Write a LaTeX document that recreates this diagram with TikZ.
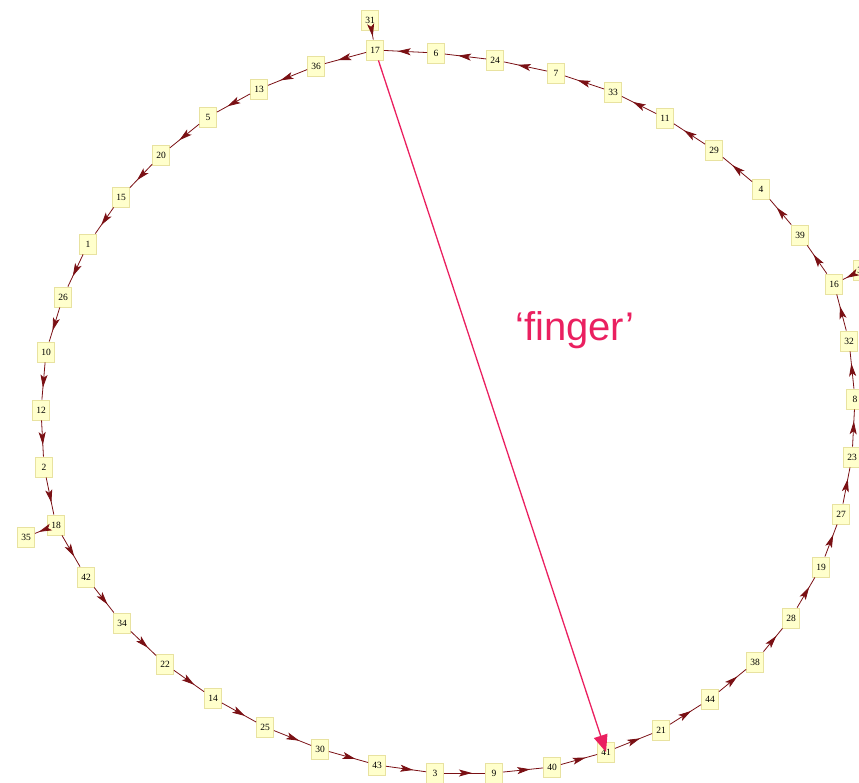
\documentclass[tikz,border=0pt]{standalone}
\usepackage{fontspec}
\setmainfont{Liberation Serif}
\newfontfamily\labelfont{Liberation Sans}
\usetikzlibrary{arrows.meta,decorations.markings}
\definecolor{boxfill}{RGB}{255,255,204}
\definecolor{boxline}{RGB}{232,226,160}
\definecolor{edgecol}{RGB}{122,16,20}
\definecolor{fingercol}{RGB}{234,32,96}
\tikzset{
  nd/.style={draw=boxline, fill=boxfill, line width=0.8pt, minimum width=17pt, minimum height=20pt, inner sep=1.5pt, font=\fontsize{9.5}{10}\selectfont},
  ed/.style={draw=edgecol, line width=0.8pt, postaction={decorate}, decoration={markings, mark=at position 0.68 with {\arrow[edgecol]{Stealth[length=13pt,width=7pt,inset=3pt]}}}},
  fingerline/.style={draw=fingercol, line width=1.3pt, -{Triangle[length=17pt,width=14pt]}},
}
\newcommand{\N}[3]{\node[nd] (n#1) at (#2,-#3) {#1};}
\begin{document}
\begin{tikzpicture}[x=1pt,y=1pt]
\useasboundingbox (0,0) rectangle (859,-783);
\N{31}{370}{20}
\N{17}{375}{50}
\N{6}{436}{53}
\N{24}{495}{60}
\N{7}{556}{73}
\N{33}{613}{92}
\N{11}{665}{118}
\N{29}{714}{150}
\N{4}{761}{189}
\N{39}{800}{235}
\N{16}{834}{284}
\N{37}{862}{270}
\N{32}{849}{341}
\N{8}{855}{399}
\N{23}{852}{457}
\N{27}{841}{514}
\N{19}{821}{567}
\N{28}{791}{618}
\N{38}{755}{662}
\N{44}{710}{699}
\N{21}{661}{730}
\N{41}{606}{752}
\N{40}{552}{767}
\N{9}{494}{773}
\N{3}{435}{773}
\N{43}{377}{765}
\N{30}{320}{749}
\N{25}{265}{727}
\N{14}{213}{698}
\N{22}{165}{664}
\N{34}{122}{623}
\N{42}{86}{577}
\N{18}{56}{525}
\N{35}{26}{537}
\N{2}{44}{467}
\N{12}{41}{410}
\N{10}{46}{352}
\N{26}{63}{297}
\N{1}{88}{244}
\N{15}{121}{197}
\N{20}{161}{155}
\N{5}{208}{117}
\N{13}{259}{89}
\N{36}{316}{66}
\foreach \a/\b in {17/36,36/13,13/5,5/20,20/15,15/1,1/26,26/10,10/12,12/2,2/18,18/42,42/34,34/22,22/14,14/25,25/30,30/43,43/3,3/9,9/40,40/41,41/21,21/44,44/38,38/28,28/19,19/27,27/23,23/8,8/32,32/16,16/39,39/4,4/29,29/11,11/33,33/7,7/24,24/6,6/17,31/17,18/35,37/16}
  \path[ed] (n\a) -- (n\b);
\draw[fingerline] (n17) -- (n41.center);
\node[text=fingercol, font=\labelfont\fontsize{40}{44}\selectfont] (finger) at (575,-330) {‘finger’};
\end{tikzpicture}
\end{document}
